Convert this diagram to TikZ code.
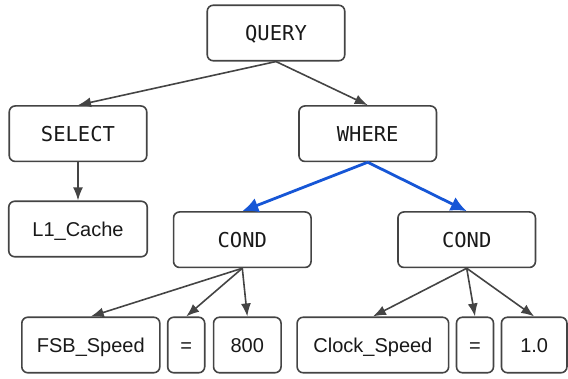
\documentclass[tikz,border=0pt]{standalone}
\usepackage{fontspec}
\usetikzlibrary{arrows.meta}

\newfontfamily\kwfamily{DejaVu Sans Mono}
\newfontfamily\leaffamily{Liberation Sans}

\definecolor{linegray}{RGB}{68,68,68}
\definecolor{treeblue}{RGB}{22,86,214}

\tikzset{
	box/.style={draw=linegray, line width=1.6pt, rounded corners=6pt, fill=white,
		minimum height=55.5pt, inner sep=0pt, text=black!90, text depth=0pt},
	kw/.style={box, minimum width=137.5pt, text height=15pt,
		font=\kwfamily\fontsize{20.5}{24}\selectfont},
	leaf/.style={box, text height=14.4pt, font=\leaffamily\fontsize{20}{24}\selectfont},
	edge/.style={->, draw=linegray, line width=1.6pt},
	hot/.style={->, draw=treeblue, line width=2.8pt, >={Latex[length=16pt,width=15pt]}},
}

\begin{document}
\begin{tikzpicture}[x=1pt, y=-1pt, >={Latex[length=13pt,width=10pt]}]
		
		\useasboundingbox (0,0) rectangle (568,379);
		
		% Wurzel und erste Ebene
		\node[kw] (query) at (276,33) {QUERY};
		\node[kw] (select) at (78,133.7) {SELECT};
		\node[kw] (where) at (367.7,133.7) {WHERE};
		
		% Bedingungen
		\node[leaf, minimum width=138.5pt] (cache) at (78,229) {L1\_Cache};
		\node[kw] (condA) at (242.3,239.7) {COND};
		\node[kw] (condB) at (466.7,239.7) {COND};
		
		% Blaetter
		\node[leaf, minimum width=138pt] (fsb) at (90.8,345) {FSB\_Speed};
		\node[leaf, minimum width=37pt] (eqA) at (186.2,345) {=};
		\node[leaf, minimum width=67.5pt] (valA) at (247.3,345) {800};
		\node[leaf, minimum width=151.5pt] (clock) at (372.9,345) {Clock\_Speed};
		\node[leaf, minimum width=37pt] (eqB) at (475,345) {=};
		\node[leaf, minimum width=65.5pt] (valB) at (534.2,345) {1.0};
		
		% Kanten
		\draw[edge] (query.south) -- (select.north);
		\draw[edge] (query.south) -- (where.north);
		\draw[edge] (select.south) -- (cache.north);
		\draw[hot] (where.south) -- (condA.north);
		\draw[hot] (where.south) -- (condB.north);
		\draw[edge] (condA.south) -- (fsb.north);
		\draw[edge] (condA.south) -- (eqA.north);
		\draw[edge] (condA.south) -- (valA.north);
		\draw[edge] (condB.south) -- (clock.north);
		\draw[edge] (condB.south) -- (eqB.north);
		\draw[edge] (condB.south) -- (valB.north);
		
	\end{tikzpicture}
\end{document}
